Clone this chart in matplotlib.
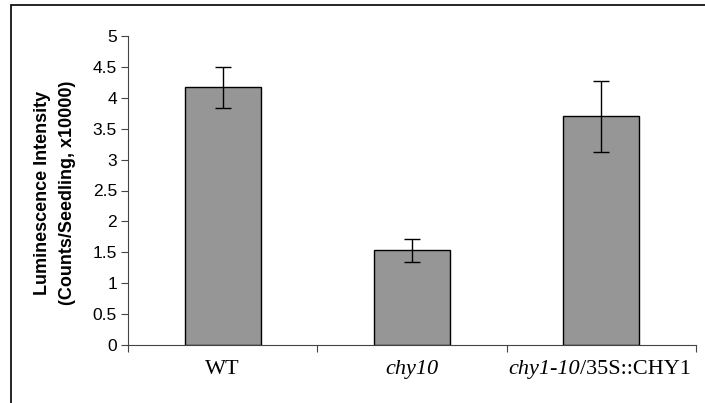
import matplotlib.pyplot as plt
from matplotlib.patches import Rectangle
import numpy as np

# data
groups = ['WT', 'chy10', 'chy1-10/35S::CHY1']
means = [4.17, 1.53, 3.70]
errors = [0.33, 0.19, 0.57]
yticks = [0, 0.5, 1, 1.5, 2, 2.5, 3, 3.5, 4, 4.5, 5]
ytick_labels = ['0', '0.5', '1', '1.5', '2', '2.5', '3', '3.5', '4', '4.5', '5']

W, H = 705, 403
fig = plt.figure(figsize=(W / 100, H / 100), dpi=100)
# outer frame, open to the right and bottom
fig.patches.append(Rectangle((11 / W, -0.1), 1.2, 1 - 5 / H + 0.1, transform=fig.transFigure,
                             fill=False, edgecolor='black', linewidth=1.2))

ax = fig.add_axes([128 / W, 1 - 345 / H, (696 - 128) / W, (345 - 36) / H])
x = np.arange(len(groups))
ax.bar(x, means, width=0.4, color='#969696', edgecolor='black', linewidth=1.0, zorder=2)
ax.errorbar(x, means, yerr=errors, fmt='none', ecolor='black', elinewidth=1.0,
            capsize=5.8, capthick=1.0, zorder=3)

ax.set_xlim(-0.5, 2.5)
ax.set_ylim(0, 5)
ax.set_yticks(yticks)
ax.set_yticklabels(ytick_labels, fontfamily='Liberation Sans', fontsize=12.5)
ax.set_xticks([-0.5, 0.5, 1.5, 2.5])
ax.set_xticklabels([])
ax.tick_params(axis='x', direction='out', length=5, width=0.8, color='#444444')
ax.tick_params(axis='y', direction='out', length=5, width=0.8, color='#444444', pad=3)

for s in ['top', 'right']:
    ax.spines[s].set_visible(False)
for s in ['left', 'bottom']:
    ax.spines[s].set_color('#444444')
    ax.spines[s].set_linewidth(0.8)

# category labels, serif with italic gene names
lab_y = -0.094
tr = ax.get_xaxis_transform()
ax.text(0, lab_y, 'WT', transform=tr, ha='center', va='baseline',
        fontfamily='Liberation Serif', fontsize=16)
ax.text(1, lab_y, 'chy10', transform=tr, ha='center', va='baseline',
        fontfamily='Liberation Serif', fontsize=16, style='italic')
ax.text(1.888, lab_y, 'chy1-10', transform=tr, ha='right', va='baseline',
        fontfamily='Liberation Serif', fontsize=16, style='italic')
ax.text(1.888, lab_y, '/35S::CHY1', transform=tr, ha='left', va='baseline',
        fontfamily='Liberation Serif', fontsize=16)

fig.text(43 / W, 1 - 193 / H, 'Luminescence Intensity', rotation=90, ha='center', va='center',
         fontfamily='Liberation Sans', fontweight='bold', fontsize=13)
fig.text(68 / W, 1 - 193 / H, '(Counts/Seedling, x10000)', rotation=90, ha='center', va='center',
         fontfamily='Liberation Sans', fontweight='bold', fontsize=13)

fig.savefig('out.png', dpi=100)
